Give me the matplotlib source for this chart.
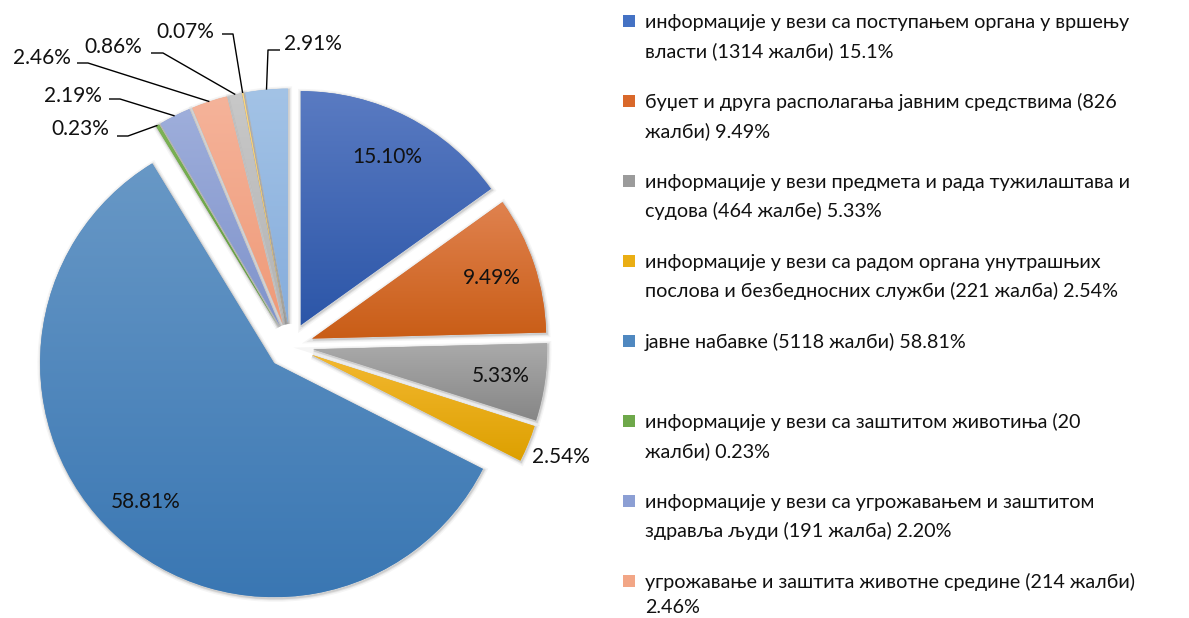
import numpy as np
import matplotlib
matplotlib.use('Agg')
import matplotlib.pyplot as plt
import matplotlib.transforms as mtrans
from matplotlib.colors import LinearSegmentedColormap
from matplotlib.patches import Rectangle, PathPatch

# share of complaints per area, clockwise from 12 o'clock
shares = [15.10, 9.49, 5.33, 2.54, 58.81, 0.23, 2.19, 2.46, 0.86, 0.07, 2.91]

legend_labels = [
    "информације у вези са поступањем органа у вршењу\nвласти (1314 жалби) 15.1%",
    "буџет и друга располагања јавним средствима (826\nжалби) 9.49%",
    "информације у вези предмета и рада тужилаштава и\nсудова (464 жалбе) 5.33%",
    "информације у вези са радом органа унутрашњих\nпослова и безбедносних служби (221 жалба) 2.54%",
    "јавне набавке (5118 жалби) 58.81%",
    "информације у вези са заштитом животиња (20\nжалби) 0.23%",
    "информације у вези са угрожавањем и заштитом\nздравља људи (191 жалба) 2.20%",
    "угрожавање и заштита животне средине (214 жалби)\n2.46%",
]

base_colors = ['#4472C4', '#D9682A', '#9B9B9B', '#EAAE14', '#4F88C0', '#6EA84A',
               '#8C9FD4', '#F2A686', '#BEBEBE', '#FCD06C', '#95B9E1']
top_colors = ['#5A7BC2', '#E0824F', '#AAAAAA', '#F3B830', '#6898C6', '#7DB356',
              '#9EAEDB', '#F5B39A', '#C8C8C8', '#FFD97E', '#A3C3E6']
bottom_colors = ['#2C56A8', '#C95D16', '#868686', '#DDA000', '#3A77B3', '#5E9A3A',
                 '#7F93CB', '#EF9A78', '#B3B3B3', '#F8C65A', '#86ADDC']

W, H = 1189, 618
plt.rcParams['font.family'] = ['Lato', 'Open Sans', 'DejaVu Sans']
fs = 15
fs_leg = 14.2
txt_color = '#111111'

fig = plt.figure(figsize=(W / 100, H / 100), dpi=100)
R = 234          # pie radius in px
cx, cy = 290, 346  # pie centre in px (from top-left)
half = 350
ax = fig.add_axes([(cx - half) / W, (H - cy - half) / H, 2 * half / W, 2 * half / H])

wedges, _ = ax.pie(shares, colors=base_colors, startangle=90, counterclock=False,
                   explode=[0.1] * len(shares), wedgeprops=dict(linewidth=0))


def px(x, y):
    return (x - cx) / R, (cy - y) / R


# soft shadow + vertical gradient per slice
shift = mtrans.ScaledTranslation(0.8 / 100, -1.2 / 100, fig.dpi_scale_trans)
grad = np.linspace(0, 1, 256).reshape(-1, 1)
for w, c0, c1 in zip(wedges, top_colors, bottom_colors):
    for lw, a in [(5, 0.04), (3, 0.06), (1.5, 0.10)]:
        ax.add_patch(PathPatch(w.get_path(), facecolor='none', edgecolor='black', lw=lw,
                               alpha=a, zorder=0.5, transform=ax.transData + shift))
    ext = w.get_path().get_extents()
    cmap = LinearSegmentedColormap.from_list('g', [c1, c0])
    im = ax.imshow(grad, cmap=cmap, origin='lower', aspect='auto', zorder=2,
                   extent=[ext.x0, ext.x1, ext.y0, ext.y1], interpolation='bilinear')
    im.set_clip_path(w)


def mid_dir(w):
    a = np.deg2rad((w.theta1 + w.theta2) / 2)
    return np.cos(a), np.sin(a)


# labels inside the large slices
for i in [0, 1, 2, 4]:
    dx, dy = mid_dir(wedges[i])
    ax.text(0.91 * dx, 0.91 * dy, f'{shares[i]:.2f}%', ha='center', va='center',
            fontsize=fs, color=txt_color, zorder=3)

dx, dy = mid_dir(wedges[3])
ax.text(1.25 * dx, 1.25 * dy, f'{shares[3]:.2f}%', ha='center', va='center',
        fontsize=fs, color=txt_color, zorder=3)

# small slices: label position, line start, elbow (px)
small_layout = {
    5: ((80, 129), (117, 136), (128, 136)),
    6: ((73, 96), (109, 99), (120, 99)),
    7: ((42, 58), (77, 63), (88, 63)),
    8: ((113, 47), (151, 53), (163, 53)),
    9: ((185, 32), (222, 34), (233, 34)),
    10: ((313, 44), (280, 50), (268, 50)),
}
for i, (tp, sp, ep) in small_layout.items():
    dx, dy = mid_dir(wedges[i])
    tx, ty = px(*tp)
    ax.text(tx, ty, f'{shares[i]:.2f}%', ha='center', va='center', fontsize=fs,
            color=txt_color, zorder=3)
    xs = [px(*sp)[0], px(*ep)[0], 1.1 * dx]
    ys = [px(*sp)[1], px(*ep)[1], 1.1 * dy]
    ax.plot(xs, ys, color='black', lw=1.0, zorder=3, solid_capstyle='butt')

ax.set_xlim(-half / R, half / R)
ax.set_ylim(-half / R, half / R)
ax.set_aspect('equal')
ax.axis('off')

# legend (first eight categories)
for i, lab in enumerate(legend_labels):
    base = 28 + i * 80
    fig.patches.append(Rectangle((623 / W, 1 - (base - 1) / H), 12 / W, 12 / H,
                                 transform=fig.transFigure, facecolor=base_colors[i],
                                 edgecolor='none'))
    for j, line in enumerate(lab.split('\n')):
        y = min(base + j * 29.5, 613)
        fig.text(645 / W, 1 - y / H, line, ha='left', va='baseline',
                 fontsize=fs_leg, color=txt_color)

fig.savefig('out.png', dpi=100)
